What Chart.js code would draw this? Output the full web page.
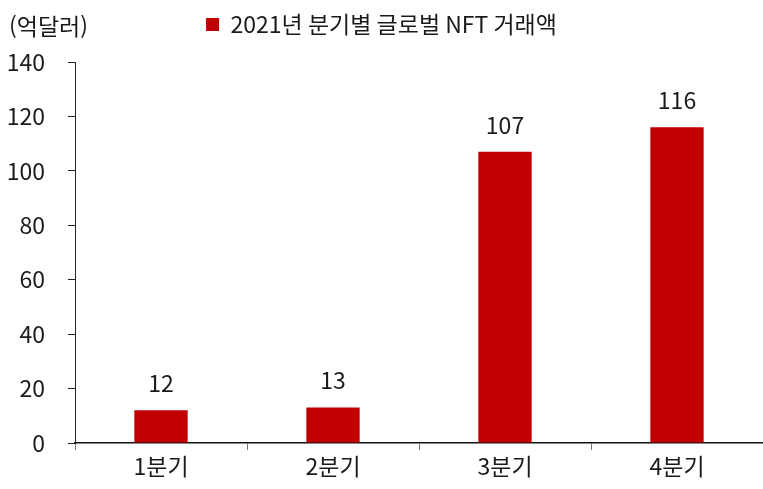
<!DOCTYPE html>
<html lang="ko">
<head>
    <meta charset="UTF-8">
    <title>2021년 분기별 글로벌 NFT 거래액</title>
    <script src="https://cdn.jsdelivr.net/npm/chart.js"></script>
    <style>
        body { margin: 0; background: #fff; }
        #wrap { width: 763px; height: 489px; }
    </style>
</head>
<body>
    <div id="wrap"><canvas id="myChart" width="763" height="489"></canvas></div>

    <script>
        // chart data
        const quarters = ['1분기', '2분기', '3분기', '4분기'];
        const volumes = [12, 13, 107, 116];
        const seriesName = '2021년 분기별 글로벌 NFT 거래액';
        const unitLabel = '(억달러)';
        const yTicks = [0, 20, 40, 60, 80, 100, 120, 140];

        const fontFamily = "'Noto Sans CJK KR', 'Noto Sans', sans-serif";
        const textColor = '#1a1a1a';

        // value labels above each bar + unit label top-left
        const labelPlugin = {
            id: 'labelPlugin',
            beforeInit(chart) {
                // extra room under the legend
                const fit = chart.legend.fit;
                chart.legend.fit = function () {
                    fit.bind(chart.legend)();
                    this.height += 16;
                };
            },
            afterDatasetsDraw(chart) {
                const ctx = chart.ctx;
                const meta = chart.getDatasetMeta(0);
                ctx.save();
                ctx.font = '23px ' + fontFamily;
                ctx.fillStyle = textColor;
                ctx.textAlign = 'center';
                ctx.textBaseline = 'middle';
                meta.data.forEach((bar, i) => {
                    ctx.fillText(volumes[i], bar.x, bar.y - 27);
                });
                ctx.textAlign = 'left';
                ctx.fillText(unitLabel, 9, 26);
                ctx.restore();
            }
        };

        const ctx = document.getElementById('myChart').getContext('2d');
        const myChart = new Chart(ctx, {
            type: 'bar',
            data: {
                labels: quarters,
                datasets: [{
                    label: seriesName,
                    data: volumes,
                    backgroundColor: '#c00000',
                    borderWidth: 0,
                    categoryPercentage: 1,
                    barPercentage: 0.31
                }]
            },
            options: {
                responsive: false,
                animation: false,
                layout: { padding: { top: 5, right: 0, left: 0, bottom: 0 } },
                plugins: {
                    legend: {
                        labels: {
                            boxWidth: 13,
                            boxHeight: 13,
                            color: textColor,
                            font: { family: fontFamily, size: 23 },
                            padding: 8
                        }
                    },
                    tooltip: { enabled: false }
                },
                scales: {
                    x: {
                        grid: {
                            drawOnChartArea: false,
                            drawTicks: true,
                            tickLength: 7,
                            color: '#777'
                        },
                        border: { color: '#111', width: 1.5 },
                        ticks: {
                            color: textColor,
                            font: { family: fontFamily, size: 23 },
                            padding: 2
                        },
                        afterFit(scale) { scale.height = 46; }
                    },
                    y: {
                        min: 0,
                        max: 140,
                        afterBuildTicks(scale) {
                            scale.ticks = yTicks.map(v => ({ value: v }));
                        },
                        grid: {
                            drawOnChartArea: false,
                            drawTicks: true,
                            tickLength: 7,
                            color: '#222'
                        },
                        border: { color: '#222', width: 1 },
                        ticks: {
                            color: textColor,
                            font: { family: fontFamily, size: 23 },
                            padding: 23
                        },
                        afterFit(scale) { scale.width = 75; }
                    }
                }
            },
            plugins: [labelPlugin]
        });
    </script>
</body>
</html>
